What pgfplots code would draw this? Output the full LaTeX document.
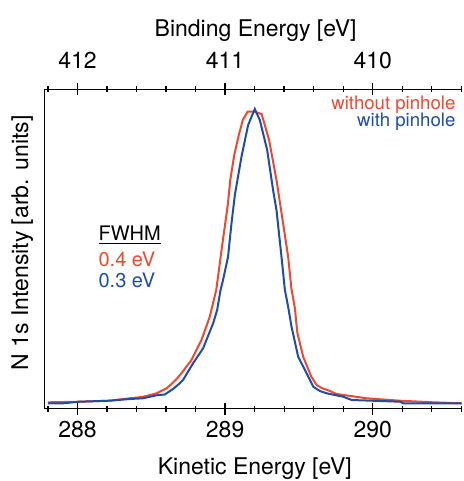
\documentclass[border=0pt]{standalone}
\usepackage{pgfplots}
\pgfplotsset{compat=1.18}
\usepackage{fontspec}
\setmainfont{TeX Gyre Heros}

\definecolor{nored}{RGB}{238,72,48}
\definecolor{pinblue}{RGB}{30,76,168}

% N 1s spectra, kinetic energy [eV] vs intensity [arb. units]
\pgfplotstableread{
ke      I
287.800 6.2
288.015 6.8
288.218 7.8
288.354 10.2
288.422 11.2
288.467 12.5
288.535 15.2
288.557 16.8
288.603 20.2
288.637 24.5
288.671 29.5
288.704 35.2
288.772 48.5
288.840 68.5
288.896 91.8
288.940 118.5
288.976 158.5
289.018 203.5
289.035 228.5
289.062 253.5
289.093 273.5
289.120 288.5
289.152 296.8
289.195 297.0
289.247 294.5
289.269 283.5
289.298 268.5
289.323 248.5
289.348 228.5
289.374 203.5
289.427 151.8
289.449 120.0
289.473 100.0
289.489 76.0
289.529 51.8
289.584 31.8
289.620 23.5
289.654 20.5
289.710 17.5
289.755 14.5
289.959 10.2
290.184 7.8
290.410 6.2
290.603 5.2
}\nopinhole

\pgfplotstableread{
ke      I
287.800 5.2
287.902 5.2
288.015 6.8
288.218 7.8
288.354 9.5
288.444 10.2
288.535 13.2
288.591 14.0
288.647 19.5
288.693 25.2
288.715 28.5
288.783 45.2
288.851 60.2
288.919 85.2
288.946 98.5
288.969 118.5
288.986 128.5
289.020 151.8
289.042 183.5
289.066 213.5
289.111 251.8
289.156 283.5
289.201 299.5
289.235 288.5
289.285 258.5
289.325 218.5
289.348 198.5
289.382 151.8
289.405 118.5
289.427 101.8
289.450 81.8
289.495 51.8
289.552 35.2
289.597 21.8
289.642 17.5
289.687 15.2
289.800 11.8
289.857 8.5
290.184 6.8
290.207 5.2
290.501 5.2
290.603 5.0
}\withpinhole

\begin{document}
\begin{tikzpicture}
\pgfplotsset{
    every non boxed x axis/.append style={x axis line style={-}},
    every non boxed y axis/.append style={y axis line style={-}},
    every axis/.append style={
        width=208.85pt, height=159.5pt, scale only axis,
        font=\fontsize{11.5}{13}\selectfont,
        tick align=outside,
        major tick length=6pt, minor tick length=3pt,
        every tick/.style={black, line width=0.65pt},
        axis line style={-, line width=0.65pt},
        /pgf/number format/assume math mode=true,
        ymin=0, ymax=319,
        ytick=\empty,
    },
}
% kinetic energy axis with data
\begin{axis}[
    name=ax,
    axis x line=bottom, axis y line=left,
    x axis line style={-}, y axis line style={-},
    xmin=287.775, xmax=290.605,
    xtick={288,289,290},
    minor xtick={287.8,288.2,288.4,288.6,288.8,289.2,289.4,289.6,289.8,290.2,290.4,290.6},
    xlabel={Kinetic Energy [eV]},
    ylabel={N 1s Intensity [arb. units]},
    x label style={at={(axis description cs:0.504,-0.19)}, anchor=center},
    y label style={at={(axis description cs:-0.053,0.519)}, anchor=center},
]
\addplot[nored, line width=1pt] table[x=ke, y=I] {\nopinhole};
\addplot[pinblue, line width=1pt] table[x=ke, y=I] {\withpinhole};

\node[anchor=east, inner sep=0pt, text=nored, font=\fontsize{9.3}{11}\selectfont] at (rel axis cs:0.985,0.951) {without pinhole};
\node[anchor=east, inner sep=0pt, text=pinblue, font=\fontsize{9.3}{11}\selectfont] at (rel axis cs:0.985,0.899) {with pinhole};

\node[anchor=west, inner sep=0pt, font=\fontsize{10}{12}\selectfont] at (rel axis cs:0.129,0.544) {\underline{FWHM}};
\node[anchor=west, inner sep=0pt, text=nored, font=\fontsize{10}{12}\selectfont] at (rel axis cs:0.129,0.466) {0.4 eV};
\node[anchor=west, inner sep=0pt, text=pinblue, font=\fontsize{10}{12}\selectfont] at (rel axis cs:0.129,0.403) {0.3 eV};
\end{axis}

% binding energy axis on top (BE = 700 - KE)
\begin{axis}[
    axis x line=top, axis y line=none,
    x axis line style={-},
    x dir=reverse,
    xmin=409.395, xmax=412.225,
    xtick={410,411,412},
    minor xtick={409.4,409.6,409.8,410.2,410.4,410.6,410.8,411.2,411.4,411.6,411.8,412.2},
    xticklabel style={yshift=4pt},
    xlabel={Binding Energy [eV]},
    x label style={at={(axis description cs:0.506,1.185)}, anchor=center},
]
\addplot[draw=none] coordinates {(410,0)};
\end{axis}

\pgfresetboundingbox
\path ([shift={(-22.15pt,-36.25pt)}]ax.south west) rectangle ([shift={(1pt,44.75pt)}]ax.north east);
\end{tikzpicture}
\end{document}
